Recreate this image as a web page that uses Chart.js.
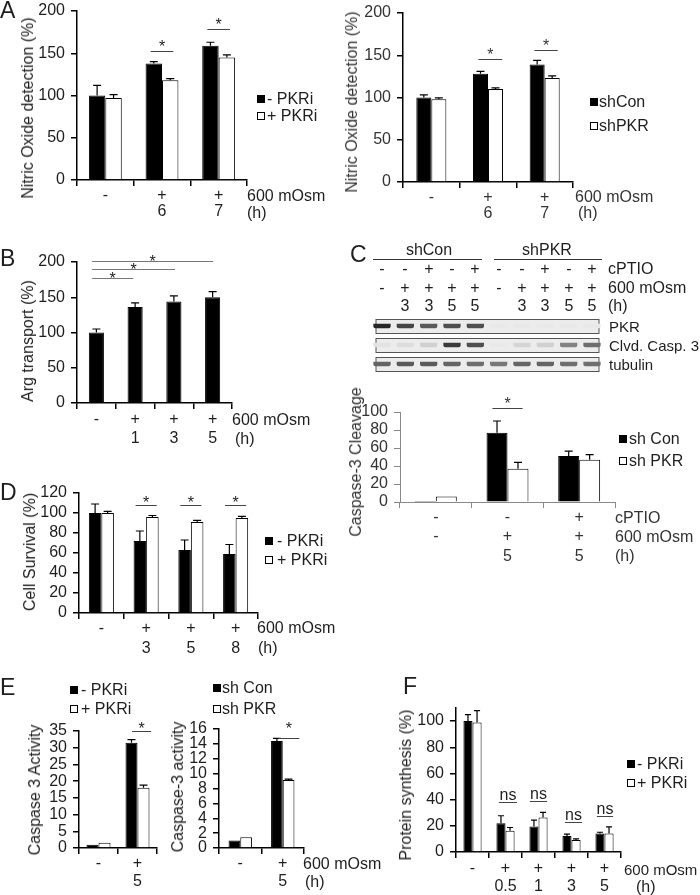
<!DOCTYPE html>
<html>
<head>
<meta charset="utf-8">
<title>Figure</title>
<script src="https://cdn.jsdelivr.net/npm/chart.js@4.4.1/dist/chart.umd.min.js"></script>
<style>
  body { margin: 0; background: #fff; }
  #fig { position: relative; width: 700px; height: 895px; overflow: hidden; font-family: 'Liberation Sans', Arial, sans-serif; color: #1e1e1e; }
  #fig canvas { position: absolute; }
  .t { position: absolute; white-space: nowrap; font-size: 16px; line-height: 1; will-change: transform; }
  .sq { display: inline-block; width: 6px; height: 6px; border: 1px solid #000; }
  .rule { position: absolute; height: 0; border-top: 1px solid #333; }
</style>
</head>
<body>
<div id="fig"></div>
<script>
const FONT = "'Liberation Sans', Arial, sans-serif";

// A left - nitric oxide with / without PKR inhibitor
const aCats = [['-', ''], ['+', '6'], ['+', '7']];
const aMinusPkri = [100, 138, 159];
const aMinusPkriErr = [12, 2, 4];
const aPlusPkri = [97, 118, 145];
const aPlusPkriErr = [4, 2, 3];
// A right - nitric oxide, shRNA
const aShCon = [100, 128, 139];
const aShConErr = [3, 3, 5];
const aShPkr = [98, 110, 123];
const aShPkrErr = [1.5, 1.5, 2.5];
// B - arginine transport
const bCats = [['-', ''], ['+', '1'], ['+', '3'], ['+', '5']];
const bArg = [100, 136, 144, 150];
const bArgErr = [5, 6, 8, 8];
// C blot - lanes and band darkness (0 = none, 1 = black)
const blotCptio = ['-', '-', '+', '-', '+', '-', '-', '+', '-', '+'];
const blotOsm = ['-', '+', '+', '+', '+', '-', '+', '+', '+', '+'];
const blotHours = ['', '3', '3', '5', '5', '', '3', '3', '5', '5'];
const blotPkr = [0.95, 0.8, 0.7, 0.75, 0.75, 0, 0, 0, 0, 0];
const blotCasp = [0.03, 0.06, 0.12, 0.85, 0.75, 0, 0.1, 0.12, 0.5, 0.6];
const blotTub = [0.65, 0.7, 0.7, 0.65, 0.6, 0.55, 0.65, 0.65, 0.6, 0.6];
// C chart - caspase-3 cleavage
const cCats = [['-', '-', ''], ['-', '+', '5'], ['+', '+', '5']];
const cShCon = [1, 77, 51];
const cShConErr = [0, 13, 5.6];
const cShPkr = [6, 37, 47];
const cShPkrErr = [0, 7, 5.6];
// D - cell survival
const dCats = [['-', ''], ['+', '3'], ['+', '5'], ['+', '8']];
const dMinusPkri = [100, 72, 63, 59];
const dMinusPkriErr = [9, 10, 10, 9.5];
const dPlusPkri = [100, 96, 91, 95];
const dPlusPkriErr = [1.7, 1.5, 1.7, 1.7];
// E - caspase 3 activity
const eCats = [['-', ''], ['+', '5']];
const eMinusPkri = [1.0, 31.5];
const eMinusPkriErr = [0, 0.9];
const ePlusPkri = [1.6, 18];
const ePlusPkriErr = [0, 0.8];
const eShCon = [1.0, 14.4];
const eShConErr = [0, 0.35];
const eShPkr = [1.45, 9.15];
const eShPkrErr = [0, 0.12];
// F - protein synthesis
const fCats = [['-', ''], ['+', '0.5'], ['+', '1'], ['+', '3'], ['+', '5']];
const fMinusPkri = [100, 22, 19.5, 12.3, 14.1];
const fMinusPkriErr = [5, 5.7, 4.9, 1.3, 1];
const fPlusPkri = [99, 16.2, 26.4, 9.2, 14.1];
const fPlusPkriErr = [9, 2.5, 3.9, 0.8, 5.1];

const pkriNames = ['- PKRi', '+ PKRi'];

const fig = document.getElementById('fig');

// error bars (upper half only) and significance bars
const marks = {
  id: 'marks',
  afterDatasetsDraw(chart, args, opts) {
    let ctx = chart.ctx, xs = chart.scales.x, ys = chart.scales.y;
    ctx.save();
    ctx.strokeStyle = '#000';
    ctx.lineWidth = 1.2;
    chart.data.datasets.forEach((ds, i) => {
      if (!ds.err) return;
      chart.getDatasetMeta(i).data.forEach((bar, j) => {
        if (!ds.err[j]) return;
        let top = ys.getPixelForValue(ds.data[j] + ds.err[j]);
        let half = Math.min(4, bar.width / 3);
        ctx.beginPath();
        ctx.moveTo(bar.x, bar.y);
        ctx.lineTo(bar.x, top);
        ctx.moveTo(bar.x - half, top);
        ctx.lineTo(bar.x + half, top);
        ctx.stroke();
      });
    });
    if (!opts.sig) { ctx.restore(); return; }
    let step = xs.width / chart.data.labels.length;
    ctx.strokeStyle = opts.line || '#444';
    ctx.lineWidth = 1;
    ctx.fillStyle = opts.ink || '#1e1e1e';
    ctx.textAlign = 'center';
    ctx.textBaseline = 'alphabetic';
    ctx.font = '16px ' + FONT;
    opts.sig.forEach(s => {
      let x0 = xs.getPixelForValue(s.a) + (s.from ?? -0.2) * step;
      let x1 = xs.getPixelForValue(s.b ?? s.a) + (s.to ?? 0.2) * step;
      let py = Math.round(ys.getPixelForValue(s.y)) + 0.5;
      ctx.beginPath();
      ctx.moveTo(x0, py);
      ctx.lineTo(x1, py);
      ctx.stroke();
      ctx.fillText(s.text || '*', (x0 + x1) / 2, py - (opts.lift || 0));
    });
    ctx.restore();
  }
};
Chart.register(marks);

function addCanvas(left, top, w, h) {
  let c = document.createElement('canvas');
  c.width = w;
  c.height = h;
  c.style.left = left + 'px';
  c.style.top = top + 'px';
  fig.appendChild(c);
  return c;
}

// area = [left, top, right, bottom] of the plot box on the page
function barChart(o) {
  let [l, t, r, b] = o.area;
  let yw = 46, xh = o.xh || 50, padT = 45, padR = 14;
  let left = l - yw - 2, top = t - padT;
  let cv = addCanvas(left, top, r + padR - left, b + xh + 2 - top);
  let axis = o.axis || '#000', ink = o.ink || '#1e1e1e', lw = o.lw || 1.5;
  let font = {family: FONT, size: 16};
  return new Chart(cv, {
    type: 'bar',
    data: {
      labels: o.labels,
      datasets: o.series.map(s => ({
        data: s.data,
        err: s.err,
        backgroundColor: s.fill,
        borderColor: '#000',
        borderWidth: 1,
        categoryPercentage: o.cat,
        barPercentage: 1
      }))
    },
    options: {
      responsive: false,
      animation: false,
      layout: {padding: {left: 2, top: padT, right: padR, bottom: 2}},
      plugins: {
        legend: {display: false},
        tooltip: {enabled: false},
        marks: {sig: o.sig, lift: o.lift, line: o.line, ink: ink}
      },
      scales: {
        x: {
          grid: {offset: true, drawOnChartArea: false, tickLength: 6, color: axis, lineWidth: lw},
          border: {color: axis, width: lw},
          ticks: {color: ink, font: {family: FONT, size: 16, lineHeight: o.lh || 1.15}, padding: o.pad ?? 1, maxRotation: 0, autoSkip: false},
          afterFit: s => { s.height = xh; }
        },
        y: {
          min: 0,
          max: o.max,
          // panel F: the axis runs past its last labelled tick
          ticks: {stepSize: o.step, color: ink, font: font, padding: 6, autoSkip: false, includeBounds: !o.open},
          grid: {drawOnChartArea: false, tickLength: 6, lineWidth: lw, color: axis},
          border: {color: axis, width: lw},
          afterFit: s => { s.width = yw; }
        }
      }
    }
  });
}

function label(s, x, y, align, size) {
  let d = document.createElement('div');
  d.className = 't';
  d.textContent = s;
  d.style.left = x + 'px';
  d.style.top = y + 'px';
  if (size) d.style.fontSize = size + 'px';
  let tx = align === 'c' ? '-50%' : align === 'r' ? '-100%' : '0';
  d.style.transform = 'translate(' + tx + ',-50%)';
  fig.appendChild(d);
  return d;
}

function yTitle(s, x, y, color) {
  let d = label(s, x, y);
  d.style.transform = 'translate(-50%,-50%) rotate(-90deg)';
  if (color) d.style.color = color;
}

function legend(x, y, dy, names, gap) {
  names.forEach((n, i) => {
    let d = label('', x, y + i * dy);
    d.style.display = 'flex';
    d.style.alignItems = 'center';
    let sq = document.createElement('span');
    sq.className = 'sq';
    sq.style.background = i ? '#fff' : '#000';
    sq.style.marginRight = gap + 'px';
    d.appendChild(sq);
    d.appendChild(document.createTextNode(n));
  });
}

function rule(x0, x1, y) {
  let d = document.createElement('div');
  d.className = 'rule';
  d.style.left = x0 + 'px';
  d.style.width = (x1 - x0) + 'px';
  d.style.top = y + 'px';
  fig.appendChild(d);
}

// ---- A ----
barChart({
  area: [77, 11, 247, 180], labels: aCats, max: 200, step: 50, cat: 0.58, lh: 1.0, pad: 2,
  series: [{data: aMinusPkri, err: aMinusPkriErr, fill: '#000'}, {data: aPlusPkri, err: aPlusPkriErr, fill: '#fff'}],
  sig: [{a: 1, y: 153}, {a: 2, y: 179}], lift: 0
});
barChart({
  area: [403, 13, 573, 182], labels: aCats, max: 200, step: 50, cat: 0.53, lh: 1.0, pad: 2, ink: '#333',
  series: [{data: aShCon, err: aShConErr, fill: '#000'}, {data: aShPkr, err: aShPkrErr, fill: '#fff'}],
  sig: [{a: 1, from: -0.17, to: 0.25, y: 146}, {a: 2, from: -0.18, to: 0.23, y: 156}], lift: 0
});

// ---- B ----
barChart({
  area: [77, 262, 232, 403], labels: bCats, max: 200, step: 50, cat: 0.39, lh: 1.19, pad: 1.5,
  series: [{data: bArg, err: bArgErr, fill: '#000'}],
  sig: [
    {a: 0, from: -0.11, b: 1, to: -0.05, y: 177},
    {a: 0, from: -0.11, b: 2, to: 0.03, y: 190},
    {a: 0, from: -0.11, b: 3, to: 0.01, y: 201}
  ],
  lift: -5, line: '#777'
});

// ---- C blot ----
function blot() {
  let cvLeft = 366;
  let cv = addCanvas(cvLeft, 310, 240, 70);
  let shade = v => { let g = Math.round(233 - v * 205); return 'rgb(' + g + ',' + g + ',' + g + ')'; };
  let rows = [blotPkr, blotCasp, blotTub];
  let ch = new Chart(cv, {
    type: 'bar',
    data: {
      labels: blotOsm.map((_, i) => 'lane ' + (i + 1)),
      datasets: rows.map((r, k) => ({
        data: r.map(() => [k - 0.12, k + 0.12]),
        backgroundColor: r.map(shade),
        borderWidth: 0,
        borderRadius: 2,
        grouped: false,
        barPercentage: 0.74,
        categoryPercentage: 1,
        clip: false
      }))
    },
    options: {
      responsive: false,
      animation: false,
      layout: {padding: {left: 16, right: 14, top: 6.5, bottom: 6.5}},
      plugins: {legend: {display: false}, tooltip: {enabled: false}},
      scales: {
        x: {display: false, offset: false},
        y: {display: false, min: -0.5, max: 2.5, reverse: true}
      }
    },
    plugins: [{
      id: 'strips',
      beforeDatasetsDraw(c) {
        let ctx = c.ctx, a = c.chartArea, ys = c.scales.y;
        ctx.save();
        for (let k = 0; k < rows.length; k++) {
          let y0 = Math.round(ys.getPixelForValue(k - 0.35)) + 0.5;
          let y1 = Math.round(ys.getPixelForValue(k + 0.35)) + 0.5;
          ctx.fillStyle = '#ececec';
          ctx.fillRect(a.left - 6, y0, a.width + 13, y1 - y0);
          ctx.strokeStyle = '#555';
          ctx.lineWidth = 1;
          ctx.strokeRect(a.left - 6, y0, a.width + 13, y1 - y0);
        }
        ctx.restore();
        ctx.filter = 'blur(0.7px)';
      },
      afterDatasetsDraw(c) {
        c.ctx.filter = 'none';
      }
    }]
  });
  let px = i => cvLeft + ch.scales.x.getPixelForValue(i);
  blotCptio.forEach((s, i) => label(s, px(i), 269, 'c'));
  blotOsm.forEach((s, i) => label(s, px(i), 288, 'c'));
  blotHours.forEach((s, i) => label(s, px(i), 306, 'c'));
  label('shCon', (px(0) + px(4)) / 2, 250, 'c');
  label('shPKR', (px(5) + px(9)) / 2 + 2, 250, 'c');
  rule(px(0) - 9, px(4) + 7, 259);
  rule(px(5) - 5, px(9) + 10, 259);
}
blot();
label('cPTIO', 608, 269);
label('600 mOsm', 608, 288);
label('(h)', 608, 306);
label('PKR', 609, 326, 'l', 15);
label('Clvd. Casp. 3', 609, 345, 'l', 15);
label('tubulin', 609, 364, 'l', 15);

// ---- C chart ----
barChart({
  area: [400, 412, 615, 502], labels: cCats, max: 100, step: 20, cat: 0.585, lh: 1.19, pad: 0.5, xh: 66,
  axis: '#888', lw: 1, ink: '#333',
  series: [{data: cShCon, err: cShConErr, fill: '#000'}, {data: cShPkr, err: cShPkrErr, fill: '#fff'}],
  sig: [{a: 1, from: -0.21, to: 0.21, y: 104.4}], lift: 0
});

// ---- D ----
barChart({
  area: [79, 493, 258, 613], labels: dCats, max: 120, step: 20, cat: 0.56, lh: 1.25, pad: 0,
  series: [{data: dMinusPkri, err: dMinusPkriErr, fill: '#000'}, {data: dPlusPkri, err: dPlusPkriErr, fill: '#fff'}],
  sig: [
    {a: 1, from: -0.235, to: 0.235, y: 108},
    {a: 2, from: -0.235, to: 0.235, y: 108},
    {a: 3, from: -0.235, to: 0.235, y: 108}
  ],
  lift: -2
});

// ---- E ----
barChart({
  area: [79, 731, 157, 848], labels: eCats, max: 35, step: 5, cat: 0.615, lh: 1.12, pad: 1,
  series: [{data: eMinusPkri, err: eMinusPkriErr, fill: '#000'}, {data: ePlusPkri, err: ePlusPkriErr, fill: '#fff'}],
  sig: [{a: 1, from: -0.14, to: 0.35, y: 35}], lift: -2
});
barChart({
  area: [219, 729, 304, 848], labels: eCats, max: 16, step: 2, cat: 0.55, lh: 1.12, pad: 1,
  series: [{data: eShCon, err: eShConErr, fill: '#000'}, {data: eShPkr, err: eShPkrErr, fill: '#fff'}],
  sig: [{a: 1, from: -0.1, to: 0.39, y: 14.8}], lift: 5
});

// ---- F ----
barChart({
  area: [456, 708, 621, 852], labels: fCats, max: 110, step: 20, open: true, cat: 0.55, lh: 1.12, pad: 2,
  series: [{data: fMinusPkri, err: fMinusPkriErr, fill: '#000'}, {data: fPlusPkri, err: fPlusPkriErr, fill: '#fff'}],
  sig: [
    {a: 1, from: -0.2, to: 0.35, y: 38.5, text: 'ns'},
    {a: 2, from: -0.26, to: 0.26, y: 39.2, text: 'ns'},
    {a: 3, from: -0.2, to: 0.32, y: 23, text: 'ns'},
    {a: 4, from: -0.23, to: 0.26, y: 27.7, text: 'ns'}
  ],
  lift: 3
});

// ---- axis titles, condition rows, legends, panel letters ----
yTitle('Nitric Oxide detection (%)', 28, 108);
yTitle('Nitric Oxide detection (%)', 352, 102, '#333');
yTitle('Arg transport (%)', 28, 341);
yTitle('Caspase-3 Cleavage', 356, 462, '#333');
yTitle('Cell Survival (%)', 30, 552);
yTitle('Caspase 3 Activity', 35, 790);
yTitle('Caspase-3 activity', 178, 787);
yTitle('Protein synthesis (%)', 406, 785);

label('600 mOsm', 247, 196);
label('(h)', 247, 213);
label('600 mOsm', 575, 197).style.color = '#333';
label('(h)', 578, 213).style.color = '#333';
label('600 mOsm', 232, 420);
label('(h)', 235, 439);
label('cPTIO', 615, 518).style.color = '#333';
label('600 mOsm', 615, 537).style.color = '#333';
label('(h)', 615, 556).style.color = '#333';
label('600 mOsm', 257, 628);
label('(h)', 258, 648);
label('600 mOsm', 303, 864);
label('(h)', 305, 882);
label('600 mOsm', 624, 869, 'l', 15);
label('(h)', 636, 887);

legend(257, 98.5, 17, pkriNames, 2);
legend(590, 102, 24, ['shCon', 'shPKR'], 1);
legend(619, 439, 22, ['sh Con', 'sh PKR'], 2);
legend(265, 541, 19, pkriNames, 4);
legend(70, 690, 19, pkriNames, 3);
legend(213, 688, 21, ['sh Con', 'sh PKR'], 1);
legend(627, 764, 19, pkriNames, 2);

label('A', 0, 10, 'l', 23);
label('B', 0, 258, 'l', 23);
label('C', 350, 254, 'l', 23);
label('D', 0, 492, 'l', 23);
label('E', 0, 687, 'l', 23);
label('F', 403, 686, 'l', 23);
</script>
</body>
</html>
